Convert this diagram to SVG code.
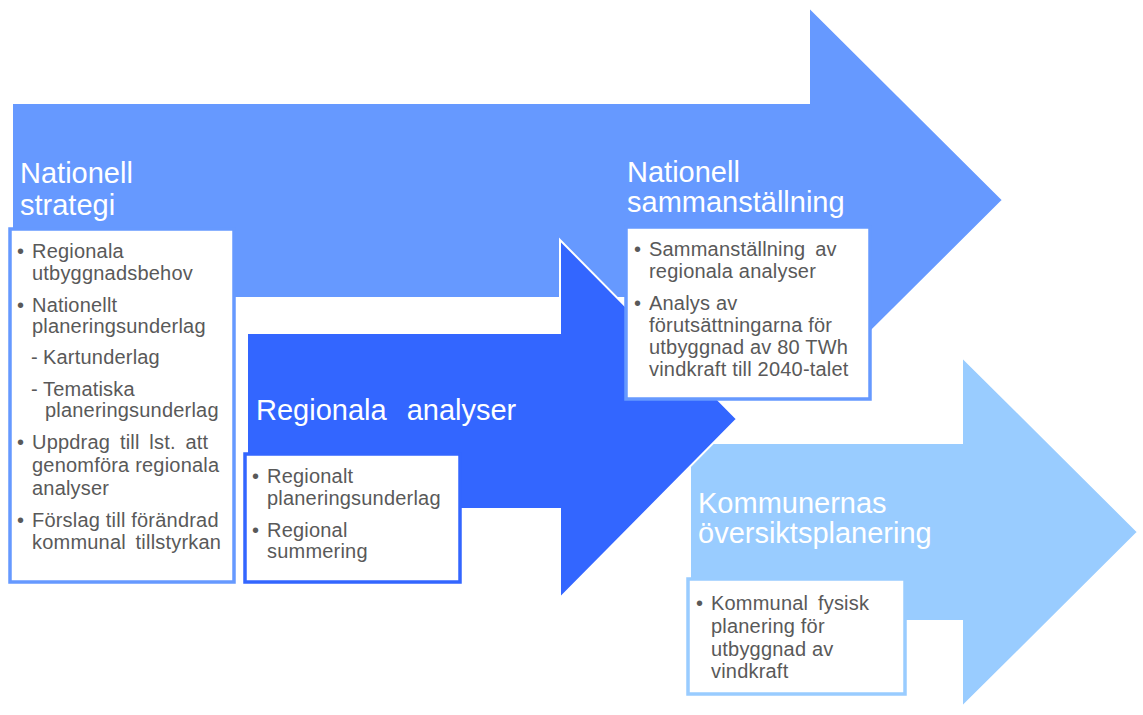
<svg xmlns="http://www.w3.org/2000/svg" width="1143" height="715" viewBox="0 0 1143 715">
<style>
.arrow{stroke:#ffffff;stroke-width:2;stroke-linejoin:miter}
.title{font-family:"Liberation Sans",Arial,sans-serif;font-size:29px;fill:#ffffff}
.body{font-family:"Liberation Sans",Arial,sans-serif;font-size:20px;fill:#595959;letter-spacing:0.2px}
.box{fill:#ffffff;stroke-width:3.5}
</style>
<rect width="1143" height="715" fill="#ffffff"/>
<g id="arrows">
  <path id="arrow-nationell" class="arrow" fill="#6699FF" d="M12 103 H809 V7 L1003 200 L809 393 V298 H12 Z"/>
  <path id="arrow-kommunal" class="arrow" fill="#99CCFF" d="M690 443 H962 V357 L1138 532 L962 707 V621 H690 Z"/>
  <path id="arrow-regional" class="arrow" fill="#3366FF" d="M247 333 H560 V240 L737 419 L560 598 V509 H247 Z"/>
</g>
<g id="nationell-strategi">
  <text class="title" x="20" y="183">Nationell</text>
  <text class="title" x="20" y="215">strategi</text>
  <rect class="box" x="10" y="229" width="224" height="353" stroke="#6699FF"/>
  <g class="body">
    <text x="17" y="258">•</text><text x="32" y="258">Regionala</text>
    <text x="32" y="280">utbyggnadsbehov</text>
    <text x="17" y="312">•</text><text x="32" y="312">Nationellt</text>
    <text x="32" y="333">planeringsunderlag</text>
    <text x="31" y="364">-</text><text x="43" y="364">Kartunderlag</text>
    <text x="31" y="396">-</text><text x="43" y="396">Tematiska</text>
    <text x="45" y="417">planeringsunderlag</text>
    <text x="17" y="449">•</text><text x="32" y="449" word-spacing="4">Uppdrag till lst. att</text>
    <text x="32" y="472">genomföra regionala</text>
    <text x="32" y="495">analyser</text>
    <text x="17" y="527">•</text><text x="32" y="527">Förslag till förändrad</text>
    <text x="32" y="549" word-spacing="4">kommunal tillstyrkan</text>
  </g>
</g>
<g id="regionala-analyser">
  <text class="title" x="256" y="420" word-spacing="12">Regionala analyser</text>
  <rect class="box" x="245" y="454" width="215" height="128" stroke="#3366FF"/>
  <g class="body">
    <text x="252" y="483">•</text><text x="267" y="483">Regionalt</text>
    <text x="267" y="505">planeringsunderlag</text>
    <text x="252" y="537">•</text><text x="267" y="537">Regional</text>
    <text x="267" y="558">summering</text>
  </g>
</g>
<g id="nationell-sammanstallning">
  <text class="title" x="627" y="182">Nationell</text>
  <text class="title" x="627" y="212">sammanställning</text>
  <rect class="box" x="626" y="227" width="244" height="172" stroke="#6699FF"/>
  <g class="body">
    <text x="634" y="256">•</text><text x="649" y="256" word-spacing="4">Sammanställning av</text>
    <text x="649" y="278">regionala analyser</text>
    <text x="634" y="310">•</text><text x="649" y="310">Analys av</text>
    <text x="649" y="332">förutsättningarna för</text>
    <text x="649" y="354">utbyggnad av 80 TWh</text>
    <text x="649" y="376">vindkraft till 2040-talet</text>
  </g>
</g>
<g id="kommunernas-oversiktsplanering">
  <text class="title" x="698" y="513">Kommunernas</text>
  <text class="title" x="698" y="543">översiktsplanering</text>
  <rect class="box" x="688" y="579" width="217" height="115" stroke="#99CCFF"/>
  <g class="body">
    <text x="696" y="610">•</text><text x="711" y="610" word-spacing="4">Kommunal fysisk</text>
    <text x="711" y="633">planering för</text>
    <text x="711" y="656">utbyggnad av</text>
    <text x="711" y="678">vindkraft</text>
  </g>
</g>
</svg>
